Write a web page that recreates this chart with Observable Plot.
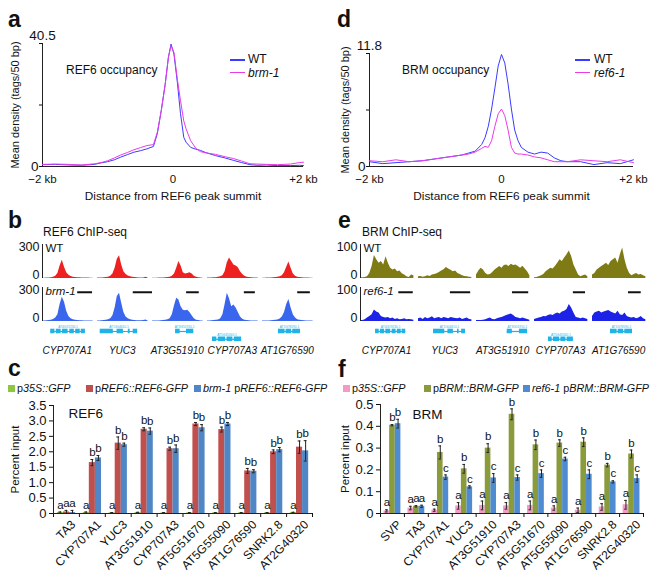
<!DOCTYPE html>
<html><head><meta charset="utf-8">
<script src="https://cdn.jsdelivr.net/npm/d3@7"></script>
<script src="https://cdn.jsdelivr.net/npm/@observablehq/plot@0.6"></script>
<style>
body{margin:0;background:#fff;}
#root{position:relative;width:661px;height:582px;overflow:hidden;background:#fff;font-family:"Liberation Sans",Arial,Helvetica,sans-serif;color:#111;}
.abs{position:absolute;white-space:nowrap;line-height:1;}
</style></head><body><div id="root"></div><script>
const FONT = '"Liberation Sans", Arial, Helvetica, sans-serif';
const root = document.getElementById("root");

// ---------- Panel a / d : mean density profiles ----------
const posA = [-2000,-1800,-1600,-1400,-1200,-1100,-1000,-900,-800,-700,-600,-500,-400,-300,-240,-180,-120,-70,-30,15,65,115,165,200,270,350,420,500,650,800,930,1050,1180,1300,1430,1600,1800,1940,2000];
const ref6WT  = [0.6,0.7,0.5,0.4,0.7,1.2,1.6,2.2,3.1,3.9,4.7,5.2,5.8,6.6,10.8,18.4,27,36,40.3,37,28,17.4,9.6,8,6.3,5.7,5.3,4.6,3.6,2.8,2,1.3,0.6,0.4,0.5,0.3,0.3,0.4,0.3];
const ref6Brm1 = [0.7,0.8,0.7,0.5,0.9,1.3,1.9,2.8,3.8,4.6,5.5,6.2,6.9,7.2,11.3,18.4,27,36,39.8,37.5,29,21.7,15,12.4,8.5,6,4.9,4.5,4,3.2,2.6,1.8,0.9,0.8,0.7,0.6,0.8,1.3,1.4];
const posD = [-2000,-1800,-1600,-1400,-1200,-1000,-800,-600,-500,-400,-300,-250,-200,-150,-100,-50,0,50,100,150,200,250,300,400,500,600,700,800,900,1000,1200,1400,1600,1800,2000];
const brmWT   = [0.5,0.3,0.4,0.5,0.6,0.8,1.0,1.2,1.4,1.6,2.3,3.0,4.2,6.0,8.2,10.5,11.7,10.8,8.6,6.0,3.8,2.7,2.0,1.5,1.3,1.5,1.4,0.9,0.6,0.5,0.5,0.2,0.4,0.3,0.7];
const brmRef6 = [0.6,0.5,0.7,0.5,0.6,0.8,1.0,1.2,1.3,1.5,1.9,2.1,2.0,2.7,4.2,5.5,6.0,5.3,3.8,2.0,1.4,1.3,1.3,1.2,1.0,0.9,0.7,0.5,0.5,0.5,0.7,0.6,0.5,0.7,0.4];
const yMaxA = 40.5, yMaxD = 11.8;

// ---------- Panel b / e : ChIP-seq tracks ----------
const loci = ["CYP707A1","YUC3","AT3G51910","CYP707A3","AT1G76590"];
const geneIds = ["AT4G19230.1","AT1G04610.1","AT3G51910.1","AT5G45340.1","AT1G76590.1"];
const geneLane = [0,0,0,1,0];
const bRows = ["WT","brm-1"];
const eRows = ["WT","ref6-1"];
const bMax = 300, eMax = 100;
const bTrackWT = [
 [3,3,4,5,6,10,20,45,110,160,100,50,28,18,12,9,7,6,5,5,4,4,3,3],
 [4,4,5,6,8,12,20,40,90,170,200,120,60,35,22,15,10,8,6,5,5,4,12,4],
 [3,3,3,4,4,5,6,8,12,20,40,90,150,110,50,40,45,50,40,20,10,6,4,3],
 [4,5,5,6,7,10,15,25,60,140,180,150,120,110,95,60,35,20,12,8,6,5,4,4],
 [3,3,4,4,5,6,8,10,15,25,50,100,145,90,40,20,12,8,6,5,4,4,3,3]];
const bTrackBrm1 = [
 [4,5,6,8,12,18,30,60,150,215,170,90,45,25,15,10,8,7,6,5,5,5,4,4],
 [5,5,6,8,10,15,25,50,120,220,250,160,80,40,25,15,10,8,7,6,6,8,14,5],
 [4,4,5,5,6,8,10,15,25,60,140,205,190,130,100,95,100,80,50,25,12,8,5,4],
 [5,5,6,8,10,14,25,60,150,250,200,130,145,120,80,40,20,12,8,6,5,5,5,5],
 [4,4,5,5,6,8,10,14,22,40,80,150,195,120,60,30,15,10,8,6,5,5,4,4]];
const eTrackWT = [
 [2,2,3,5,15,35,68,55,45,50,40,64,45,30,25,28,20,22,14,10,5,3,10,8],
 [5,6,4,5,8,6,10,12,14,18,22,26,32,28,24,20,22,15,12,8,6,5,4,3],
 [10,22,30,25,15,10,12,18,25,30,35,30,38,40,35,42,38,40,35,30,36,28,20,8],
 [2,3,5,8,12,20,25,30,28,35,45,55,50,60,70,81,65,40,25,10,5,8,10,5],
 [10,15,25,30,35,40,45,38,50,55,60,45,70,90,55,30,15,8,12,15,10,12,8,5]];
const eTrackRef6 = [
 [3,3,5,10,15,20,34,28,25,15,12,10,12,8,10,6,8,5,6,8,5,6,5,4],
 [8,10,6,12,8,10,14,8,10,12,8,12,10,8,12,10,9,8,10,6,8,10,6,5],
 [3,3,3,4,5,8,10,6,5,8,10,12,15,18,20,22,18,12,10,8,10,8,6,4],
 [6,8,10,12,15,14,18,20,18,22,25,22,28,30,35,50,40,25,12,10,8,10,8,6],
 [15,25,28,30,25,28,30,32,28,25,22,30,20,18,25,15,12,10,12,8,10,15,8,5]];
const bGeneSpan = [[0.15,0.78],[0.05,0.73],[0.42,0.75],[0.09,0.62],[0.29,0.69]];
const eGeneSpan = [[0.26,0.78],[0.26,0.81],[0.53,0.88],[0.24,0.67],[0.31,0.69]];
const exons = [
 [[0,0.12],[0.16,0.3],[0.34,0.5],[0.55,0.68],[0.72,0.85],[0.88,1]],
 [[0,0.35],[0.45,0.62],[0.75,0.8],[0.88,1]],
 [[0,0.25],[0.6,1]],
 [[0,0.15],[0.2,0.45],[0.5,0.7],[0.75,1]],
 [[0,0.3],[0.35,0.6],[0.65,1]]];
const bScaleBars = [[0.64,0.91],[1.65,2.0],[2.62,2.85],[3.67,3.87],[4.64,4.87]];
const eScaleBars = [[0.66,0.91],[1.55,1.9],[2.62,2.9],[3.67,3.88],[4.62,4.84]];

// ---------- Panel c : REF6 ChIP-qPCR ----------
const genesC = ["TA3","CYP707A1","YUC3","AT3G51910","CYP707A3","AT5G51670","AT5G55090","AT1G76590","SNRK2.8","AT2G40320"];
const cGFP     = [0.03,0.03,0.02,0.03,0.02,0.02,0.02,0.02,0.02,0.03];
const cGFPErr  = [0.02,0.02,0.01,0.01,0.01,0.01,0.01,0.01,0.01,0.01];
const cREF6    = [0.05,1.65,2.28,2.73,2.1,2.9,2.72,1.38,2.0,2.15];
const cREF6Err = [0.05,0.1,0.2,0.05,0.05,0.05,0.08,0.08,0.06,0.2];
const cBrm     = [0.03,1.8,2.23,2.67,2.1,2.78,2.9,1.37,2.07,2.03];
const cBrmErr  = [0.07,0.08,0.05,0.1,0.12,0.1,0.05,0.05,0.07,0.33];
const cGFPLet  = ["a","a","a","a","a","a","a","a","a","a"];
const cREF6Let = ["a","b","b","b","b","b","b","b","b","b"];
const cBrmLet  = ["a","b","b","b","b","b","b","b","b","b"];
const cTicks = [0,0.5,1,1.5,2,2.5,3,3.5];

// ---------- Panel f : BRM ChIP-qPCR ----------
const genesF = ["SVP","TA3","CYP707A1","YUC3","AT3G51910","CYP707A3","AT5G51670","AT5G55090","AT1G76590","SNRK2.8","AT2G40320"];
const fGFP     = [0.012,0.025,0.015,0.035,0.037,0.035,0.037,0.025,0.015,0.03,0.04];
const fGFPErr  = [0.005,0.008,0.005,0.015,0.02,0.015,0.02,0.01,0.01,0.015,0.02];
const fBRM     = [0.405,0.033,0.28,0.205,0.30,0.455,0.315,0.323,0.327,0.222,0.273];
const fBRMErr  = [0.003,0.003,0.03,0.02,0.02,0.025,0.022,0.015,0.02,0.008,0.018];
const fRef6    = [0.412,0.033,0.167,0.122,0.163,0.165,0.183,0.25,0.18,0.145,0.16];
const fRef6Err = [0.02,0.005,0.01,0.005,0.02,0.012,0.017,0.008,0.02,0.005,0.017];
const fGFPLet  = ["a","a","a","a","a","a","a","a","a","a","a"];
const fBRMLet  = ["b","a","b","b","b","b","b","b","b","b","b"];
const fRef6Let = ["b","a","c","c","c","c","c","c","c","c","c"];
const fTicks = [0,0.1,0.2,0.3,0.4,0.5];

// ---------- helpers ----------
function addText(html, left, top, size, opts = {}) {
  const d = document.createElement("div");
  d.className = "abs";
  d.style.left = left + "px"; d.style.top = top + "px"; d.style.fontSize = size + "px";
  if (opts.bold) d.style.fontWeight = "bold";
  if (opts.italic) d.style.fontStyle = "italic";
  d.innerHTML = html;
  root.appendChild(d);
}
function addBox(left, top, w, h, color) {
  const d = document.createElement("div");
  d.style.cssText = `position:absolute;left:${left}px;top:${top}px;width:${w}px;height:${h}px;background:${color}`;
  root.appendChild(d);
}
function place(svg, left, top) {
  svg.style.position = "absolute"; svg.style.left = left + "px"; svg.style.top = top + "px";
  root.appendChild(svg);
}
const INK = "#111";
const baseStyle = {fontFamily: FONT, fontSize: "12px", color: INK, background: "transparent", overflow: "visible"};
const T = d => d;

function profile(pos, s1, s2, c1, c2, ymax, o) {
  const d1 = pos.map((x, i) => ({x, y: s1[i]}));
  const d2 = pos.map((x, i) => ({x, y: s2[i]}));
  return Plot.plot({
    width: o.width, height: 172, marginLeft: o.mL, marginRight: o.mR, marginTop: o.mT, marginBottom: 36,
    style: {...baseStyle, fontSize: "11.5px"},
    x: {domain: [-2000, 2000], ticks: [-2000, 0, 2000], tickSize: 0, tickPadding: 8, label: null,
        tickFormat: d => d === 0 ? "0" : (d < 0 ? "\u22122 kb" : "+2 kb")},
    y: {domain: [0, ymax], ticks: [0, ymax / 2, ymax], tickSize: 3, tickFormat: () => "", label: null},
    marks: [
      Plot.ruleY([0], {stroke: "#222"}),
      Plot.ruleX([-2000], {stroke: "#222"}),
      Plot.line(d1, {x: "x", y: "y", stroke: c1, strokeWidth: 1}),
      Plot.line(d2, {x: "x", y: "y", stroke: c2, strokeWidth: 1}),
      Plot.text([String(ymax)], {x: () => -2000, y: () => ymax, text: T, dy: -8, fontSize: 13.5, fill: INK}),
      Plot.text(["0"], {x: () => -2000, y: () => 0, text: T, textAnchor: "end", dx: -4, fontSize: 13.5, fill: INK}),
      Plot.text(["Distance from REF6 peak summit"], {frameAnchor: "bottom", dy: 30, lineAnchor: "middle", text: T, fontSize: 11.8, fill: INK}),
      Plot.text(["Mean density (tags/50 bp)"], {frameAnchor: "left", dx: o.yl, rotate: -90, textAnchor: "middle", lineAnchor: "middle", text: T, fontSize: 11, fill: INK})
    ]
  });
}

function trackData(row, arrs, span) {
  const out = [];
  arrs.forEach((a, i) => a.forEach((v, k) => out.push({row, locus: i, x: i + k / (a.length - 1) * span, y: v})));
  return out;
}
function tracks(rows, wtArr, mutArr, colors, ymax, bars, o) {
  const dW = trackData(rows[0], wtArr, 0.92), dM = trackData(rows[1], mutArr, 0.92);
  return Plot.plot({
    width: o.width, height: 86, marginLeft: o.mL, marginRight: o.mR, marginTop: 4, marginBottom: 4,
    style: baseStyle,
    x: {domain: [0, 5], axis: null},
    y: {domain: [0, ymax], axis: null},
    fy: {domain: rows, axis: null, paddingInner: 0.2, paddingOuter: 0},
    marks: [
      Plot.areaY(dW, {x: "x", y: "y", z: "locus", fy: "row", fill: colors[0]}),
      Plot.areaY(dM, {x: "x", y: "y", z: "locus", fy: "row", fill: colors[1]}),
      Plot.ruleX(rows, {fy: T, x: () => 0, y1: () => 0, y2: () => ymax, stroke: "#222"}),
      Plot.text(rows, {fy: T, x: () => 0, y: () => ymax, text: () => String(ymax), textAnchor: "end", dx: -3, dy: 2, fontSize: 12.5, fill: INK}),
      Plot.text(rows, {fy: T, x: () => 0, y: () => 0, text: () => "0", textAnchor: "end", dx: -3, dy: -4, fontSize: 12.5, fill: INK}),
      Plot.text([rows[0]], {fy: T, x: () => 0, y: () => ymax, text: T, textAnchor: "start", dx: 3, dy: 4, fontSize: 11.5, fill: INK}),
      Plot.text([rows[1]], {fy: T, x: () => 0, y: () => ymax, text: T, textAnchor: "start", dx: 3, dy: 4, fontSize: 11.5, fontStyle: "italic", fill: INK}),
      Plot.ruleY(bars, {fy: () => rows[1], y: () => ymax * 0.86, x1: d => d[0], x2: d => d[1], stroke: INK, strokeWidth: 2})
    ]
  });
}

function genes(spans, o) {
  const laneY = l => l === 0 ? 0.75 : 1.4;
  const ex = [], body = [];
  spans.forEach((s, i) => {
    const y = laneY(geneLane[i]), a = i + s[0], w = s[1] - s[0];
    body.push({i, x1: a, x2: a + w, y});
    exons[i].forEach(e => ex.push({x1: a + e[0] * w, x2: a + e[1] * w, y1: y - 0.19, y2: y + 0.19}));
  });
  return Plot.plot({
    width: o.width, height: 38, marginLeft: o.mL, marginRight: o.mR, marginTop: 0, marginBottom: 0,
    style: baseStyle,
    x: {domain: [0, 5], axis: null},
    y: {domain: [3.17, 0], axis: null},
    marks: [
      Plot.ruleY(body, {y: "y", x1: "x1", x2: "x2", stroke: "#1fb3e8", strokeWidth: 1.2}),
      Plot.rect(ex, {x1: "x1", x2: "x2", y1: "y1", y2: "y2", fill: "#1fb3e8"}),
      Plot.text(body, {x: d => (d.x1 + d.x2) / 2, y: d => d.y - 0.4, text: d => geneIds[d.i], fontSize: 3.2, fill: "#1fb3e8"}),
      Plot.text(loci, {x: (d, i) => i + 0.45, y: () => 2.35, text: T, fontStyle: "italic", fontSize: 10, fill: INK})
    ]
  });
}

function bars(geneNames, vals, errs, lets, colors, ymax, ticks, title, o) {
  const n = geneNames.length, bw = 0.235;
  const data = [];
  vals.forEach((arr, s) => arr.forEach((v, g) => {
    const c = g + 0.5 + (s - 1) * bw;
    data.push({s, g, v, e: errs[s][g], l: lets[s][g], c, x1: c - bw / 2, x2: c + bw / 2});
  }));
  const cap = 0.055;
  return Plot.plot({
    width: o.width, height: 187, marginLeft: o.mL, marginRight: o.mR, marginTop: o.mT, marginBottom: 69,
    style: {...baseStyle, fontSize: "13px"},
    x: {domain: [0, n], ticks: d3.range(n + 1), tickSize: 4, tickFormat: () => "", label: null},
    y: {domain: [0, ymax], ticks, tickSize: 4, tickPadding: 3, label: null,
        tickFormat: d => d === 0 ? "0" : d.toFixed(1)},
    marks: [
      ...[0, 1, 2].map(s => Plot.rect(data.filter(d => d.s === s), {x1: "x1", x2: "x2", y1: () => 0, y2: "v", fill: colors[s]})),
      Plot.ruleX(data, {x: "c", y1: d => Math.max(0, d.v - d.e), y2: d => d.v + d.e, stroke: "#222"}),
      Plot.ruleY(data, {y: d => d.v + d.e, x1: d => d.c - cap, x2: d => d.c + cap, stroke: "#222"}),
      Plot.ruleY(data.filter(d => d.v - d.e > 0), {y: d => d.v - d.e, x1: d => d.c - cap, x2: d => d.c + cap, stroke: "#222"}),
      Plot.ruleY([0], {stroke: "#222"}),
      Plot.ruleX([0], {stroke: "#222"}),
      Plot.text(data, {x: "c", y: d => d.v + d.e, text: "l", dy: -7, fontSize: 11.5, fill: INK}),
      Plot.text(geneNames, {x: (d, i) => i + 0.5, y: () => 0, text: T, rotate: -45, textAnchor: "end", dx: 7, dy: 9, fontSize: 12, fill: INK}),
      Plot.text([title], {frameAnchor: "top-left", dx: o.tdx, dy: o.tdy, textAnchor: "start", lineAnchor: "middle", text: T, fontSize: 13.5, fill: INK}),
      Plot.text(["Percent input"], {frameAnchor: "left", rotate: -90, dx: o.yl, textAnchor: "middle", lineAnchor: "middle", text: T, fontSize: 11.5, fill: INK})
    ]
  });
}

// ---------- build ----------
place(profile(posA, ref6WT, ref6Brm1, "#3b3bff", "#e83ce8", yMaxA, {width: 330, mL: 42, mR: 27, mT: 13, yl: -27}), 0, 30);
place(profile(posD, brmWT, brmRef6, "#3b3bff", "#e83ce8", yMaxD, {width: 331, mL: 39, mR: 28, mT: 23, yl: -24}), 330, 30);

place(tracks(bRows, bTrackWT, bTrackBrm1, ["#ee2020", "#3a66ee"], bMax, bScaleBars, {width: 330, mL: 42, mR: 13}), 0, 240);
place(tracks(eRows, eTrackWT, eTrackRef6, ["#7e7a14", "#1c22e6"], eMax, eScaleBars, {width: 331, mL: 30, mR: 11}), 330, 240);
place(genes(bGeneSpan, {width: 330, mL: 42, mR: 13}), 0, 322);
place(genes(eGeneSpan, {width: 331, mL: 30, mR: 11}), 330, 322);

place(bars(genesC, [cGFP, cREF6, cBrm], [cGFPErr, cREF6Err, cBrmErr], [cGFPLet, cREF6Let, cBrmLet],
  ["#8dc63f", "#c0504d", "#4f86c6"], 3.5, cTicks, "REF6", {width: 330, mL: 53, mR: 18, mT: 10, tdx: 15, tdy: 8, yl: -38}), 0, 395);
place(bars(genesF, [fGFP, fBRM, fRef6], [fGFPErr, fBRMErr, fRef6Err], [fGFPLet, fBRMLet, fRef6Let],
  ["#f39bc6", "#8a9b3c", "#4f8bd0"], 0.5, fTicks, "BRM", {width: 331, mL: 50, mR: 18, mT: 9, tdx: 32, tdy: 10, yl: -35}), 330, 395);

// panel letters
[["a", 8, 27], ["d", 337, 27], ["b", 8, 228], ["e", 338, 228], ["c", 8, 376], ["f", 338, 377]]
  .forEach(([t, x, b]) => addText(t, x, b - 19.5, 23, {bold: true}));

// in-panel labels
addText("REF6 occupancy", 66, 64, 12);
addText("BRM occupancy", 402, 64, 12);
addText("REF6 ChIP-seq", 43, 226, 12);
addText("BRM ChIP-seq", 362, 226, 12);

// legends a / d
addBox(230, 59, 15, 2, "#3b3bff"); addText("WT", 248, 53, 12);
addBox(230, 72, 15, 1, "#e83ce8"); addText("brm-1", 248, 67, 12, {italic: true});
addBox(575, 59, 15, 2, "#3b3bff"); addText("WT", 594, 53, 12);
addBox(575, 72, 15, 1, "#e83ce8"); addText("ref6-1", 594, 67, 12, {italic: true});

// legends c / f
const legC = [[8, "#8dc63f", "p<i>35S::GFP</i>"], [86, "#c0504d", "p<i>REF6::REF6-GFP</i>"], [194, "#4f86c6", "<i>brm-1</i> p<i>REF6::REF6-GFP</i>"]];
const legF = [[343, "#f39bc6", "p<i>35S::GFP</i>"], [424, "#8a9b3c", "p<i>BRM::BRM-GFP</i>"], [523, "#4f8bd0", "<i>ref6-1</i> p<i>BRM::BRM-GFP</i>"]];
[...legC, ...legF].forEach(([x, c, t]) => { addBox(x, 385, 7, 7, c); addText(t, x + 9, 383, 10.8); });
</script></body></html>
